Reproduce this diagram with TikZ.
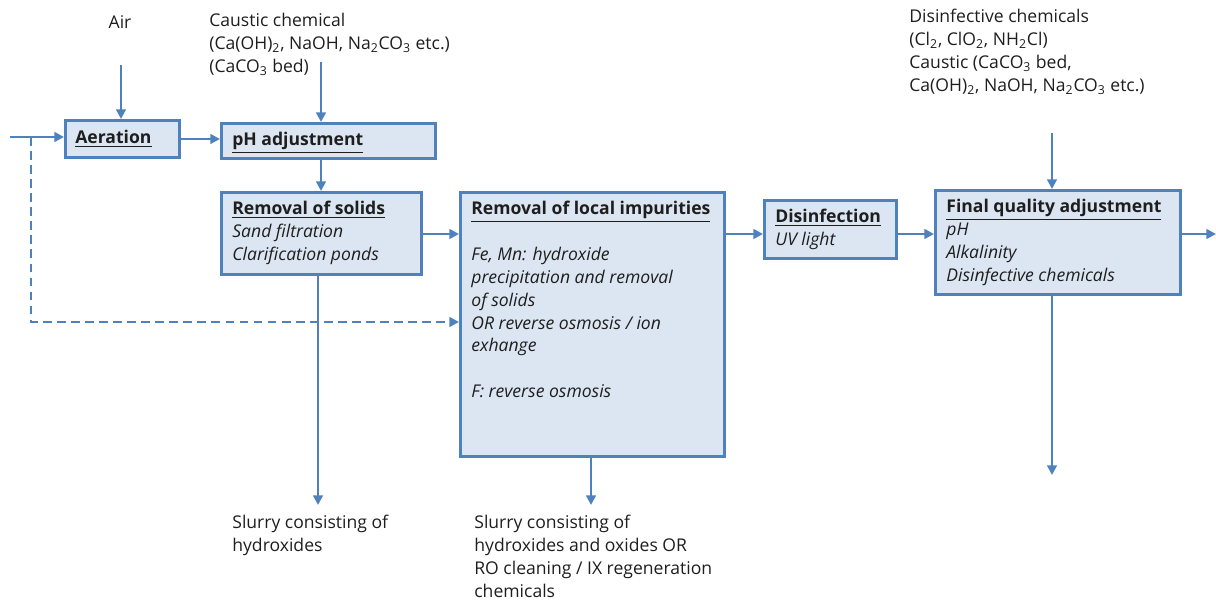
\documentclass[tikz,border=0pt]{standalone}
\usepackage{fontspec}
\setmainfont{Open Sans}
\usetikzlibrary{arrows.meta}
\definecolor{boxline}{RGB}{79,129,189}
\definecolor{boxfill}{RGB}{220,230,242}
\definecolor{textgray}{RGB}{30,30,30}
\newcommand{\head}[1]{\textbf{\underline{#1}}}

\begin{document}
\begin{tikzpicture}[x=0.02cm, y=-0.02cm,
    font=\fontsize{10}{13}\selectfont,
    stage/.style={draw=boxline, fill=boxfill, line width=1.7pt, inner sep=0pt, anchor=north west},
    boxtext/.style={anchor=north west, inner sep=0pt, align=left, text=textgray},
    flow/.style={draw=boxline, line width=1.5pt, -{Triangle[length=5.5pt,width=5.5pt]}}]
  \useasboundingbox (0,0) rectangle (1216,601);

  % treatment stages
  \node[stage, minimum width=2.28cm, minimum height=0.74cm] (aer) at (64,119) {};
  \node[stage, minimum width=4.28cm, minimum height=0.70cm] (ph) at (220,122) {};
  \node[stage, minimum width=4.00cm, minimum height=1.64cm] (sol) at (220,191) {};
  \node[stage, minimum width=5.28cm, minimum height=5.28cm] (imp) at (459,191) {};
  \node[stage, minimum width=2.64cm, minimum height=1.16cm] (dis) at (763,199) {};
  \node[stage, minimum width=4.90cm, minimum height=2.08cm] (fin) at (934,189) {};

  \node[boxtext] (aertext) at (75,130) {\head{Aeration}};
  \node[boxtext] (phtext) at (232,132) {\head{pH adjustment}};
  \node[boxtext] (soltext) at (232,201) {\head{Removal of solids}\\ \textit{Sand filtration}\\ \textit{Clarification ponds}};
  \node[boxtext] (imptext) at (471,201) {\head{Removal of local impurities}\\[13pt]
    \textit{Fe, Mn: hydroxide}\\ \textit{precipitation and removal}\\ \textit{of solids}\\
    \textit{OR reverse osmosis / ion}\\ \textit{exhange}\\[13pt] \textit{F: reverse osmosis}};
  \node[boxtext] (distext) at (775,209) {\head{Disinfection}\\ \textit{UV light}};
  \node[boxtext] (fintext) at (946,199) {\head{Final quality adjustment}\\ \textit{pH}\\ \textit{Alkalinity}\\ \textit{Disinfective chemicals}};

  % inputs and outputs
  \node[text=textgray] (air) at (120,22) {Air};
  \node[boxtext] (caustic) at (209,13) {Caustic chemical\\ (Ca(OH)\textsubscript{2}, NaOH, Na\textsubscript{2}CO\textsubscript{3} etc.)\\ (CaCO\textsubscript{3} bed)};
  \node[boxtext] (chem) at (909,9) {Disinfective chemicals\\ (Cl\textsubscript{2}, ClO\textsubscript{2}, NH\textsubscript{2}Cl)\\ Caustic (CaCO\textsubscript{3} bed,\\ Ca(OH)\textsubscript{2}, NaOH, Na\textsubscript{2}CO\textsubscript{3} etc.)};
  \node[boxtext] (slurry) at (232,515) {Slurry consisting of\\ hydroxides};
  \node[boxtext] (slurryro) at (474,515) {Slurry consisting of\\ hydroxides and oxides OR\\ RO cleaning / IX regeneration\\ chemicals};

  \coordinate (in) at (10,137);
  \coordinate (split) at (31,137);
  \coordinate (bypass) at (31,322);
  \coordinate (airtop) at (121,65);
  \coordinate (caustictop) at (321,62);
  \coordinate (mainline) at (0,234);
  \coordinate (out) at (1216,234);
  \coordinate (chemtop) at (1052,133);
  \coordinate (finbot) at (1052,475);
  \coordinate (solbot) at (318,505);
  \coordinate (impbot) at (591,505);

  \draw[flow] (in) -- (aer.west |- in);
  \draw[flow] (airtop) -- (airtop |- aer.north);
  \draw[flow] (aer.east) -- (aer.east -| ph.west);
  \draw[flow] (caustictop) -- (caustictop |- ph.north);
  \draw[flow] (ph.south -| caustictop) -- (caustictop |- sol.north);
  \draw[flow] (sol.east |- mainline) -- (imp.west |- mainline);
  \draw[flow] (imp.east |- mainline) -- (dis.west |- mainline);
  \draw[flow] (dis.east |- mainline) -- (fin.west |- mainline);
  \draw[flow] (fin.east |- mainline) -- (out);
  \draw[flow] (chemtop) -- (chemtop |- fin.north);
  \draw[flow] (fin.south -| finbot) -- (finbot);
  \draw[flow] (sol.south -| solbot) -- (solbot);
  \draw[flow] (imp.south -| impbot) -- (impbot);
  % bypass of aeration and pH step
  \draw[flow, dash pattern=on 5pt off 3pt] (split) -- (bypass) -- (bypass -| imp.west);
\end{tikzpicture}
\end{document}
